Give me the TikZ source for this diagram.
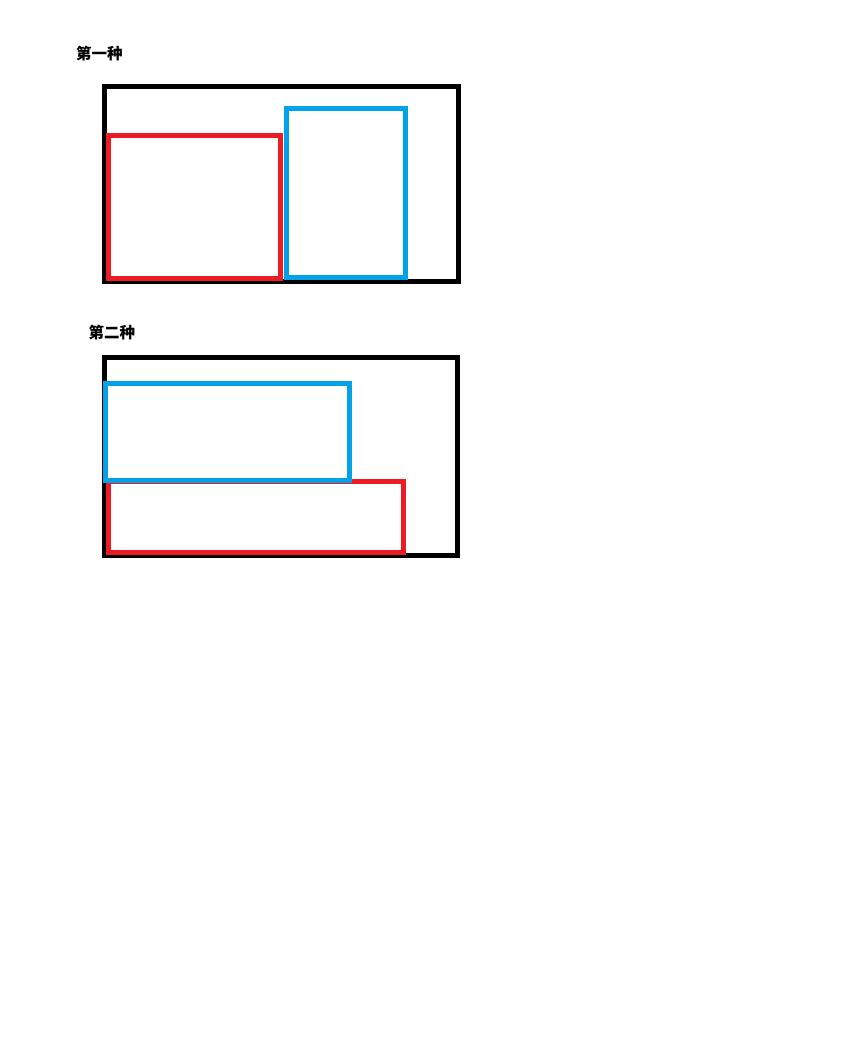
\documentclass[tikz,border=0pt]{standalone}
\usepackage{fontspec}
\newfontfamily\cjk{Noto Sans CJK SC}
\definecolor{boxred}{RGB}{237,28,36}
\definecolor{boxblue}{RGB}{0,162,232}

\begin{document}
\begin{tikzpicture}[x=1pt,y=-1pt,
    every node/.style={font=\cjk\bfseries\fontsize{15.5}{18}\selectfont,inner sep=0pt,anchor=west},
    outer/.style={draw=black,line width=4.8pt},
    redbox/.style={draw=boxred,line width=4.8pt},
    bluebox/.style={draw=boxblue,line width=4.8pt}]
  \useasboundingbox (0,0) rectangle (844,1055);

  %==================== first case ====================
  \node (caseA) at (76,54) {第一种};
  \draw[outer]    (104.6,86.5)  rectangle (458.3,281.8);
  \draw[redbox]   (108.3,135.7) rectangle (280.3,278.3);
  \draw[bluebox]  (286.5,108.3) rectangle (405.2,277.2);

  %==================== second case ====================
  \node (caseB) at (88.3,333) {第二种};
  \draw[outer]    (104.5,357.5) rectangle (457.3,555.3);
  \draw[redbox]   (108.5,481.5) rectangle (403.2,552.5);
  \draw[bluebox]  (105.7,383.3) rectangle (349.3,480.7);

\end{tikzpicture}
\end{document}
